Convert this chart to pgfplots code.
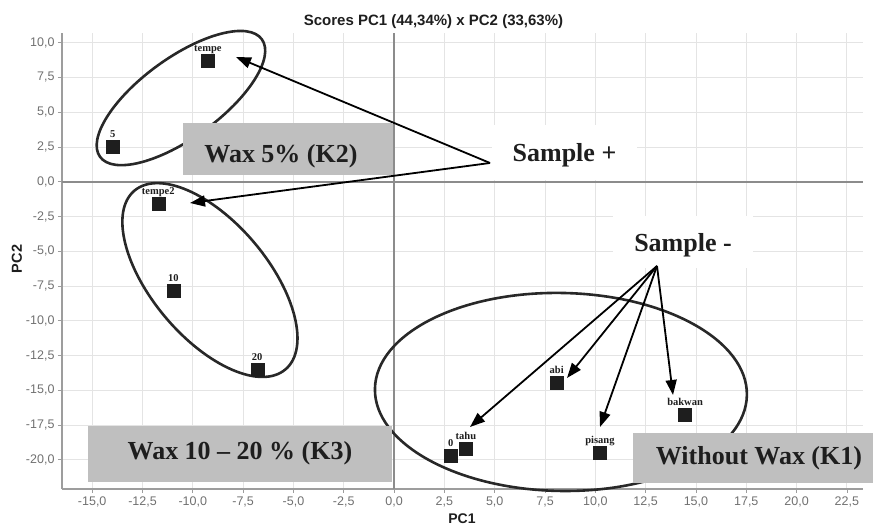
\documentclass[border=0pt]{standalone}
\usepackage{pgfplots}
\pgfplotsset{compat=1.18}
\usepackage{pgfplotstable}
\usepackage{fontspec}
\setmainfont{Liberation Sans}
\newfontfamily\serifbold{Liberation Serif}
\usetikzlibrary{arrows.meta}

\definecolor{tickgray}{RGB}{112,112,112}
\definecolor{gridgray}{RGB}{228,228,228}
\definecolor{zerogray}{RGB}{140,140,140}
\definecolor{boxgray}{RGB}{191,191,191}
\definecolor{inkdark}{RGB}{30,30,30}
\definecolor{ringdark}{RGB}{40,40,40}

% PCA scores (PC1, PC2) with sample names
\pgfplotstableread{
x y label
-9.25 8.69 tempe
-13.98 2.52 5
-11.72 -1.55 tempe2
-10.97 -7.84 10
-6.80 -13.49 20
8.08 -14.43 abi
14.46 -16.73 bakwan
10.23 -19.46 pisang
3.57 -19.17 tahu
2.81 -19.70 0
}\scores

\tikzset{
  callout/.style={line width=1.8pt, black, -{Triangle[length=15pt,width=11pt]}},
  bigtext/.style={anchor=base, inner sep=0pt, text=inkdark,
    font=\serifbold\bfseries\fontsize{26}{28}\selectfont},
}

\begin{document}
\begin{tikzpicture}
\path[use as bounding box] (0,0) rectangle (873pt,526pt);
\begin{axis}[
  at={(62pt,37pt)}, anchor=south west,
  scale only axis, width=801pt, height=456pt,
  xmin=-16.5, xmax=23.3, ymin=-22.1, ymax=10.7,
  xtick={-15,-12.5,-10,-7.5,-5,-2.5,0,2.5,5,7.5,10,12.5,15,17.5,20,22.5},
  ytick={-20,-17.5,-15,-12.5,-10,-7.5,-5,-2.5,0,2.5,5,7.5,10},
  /pgf/number format/.cd, fixed, fixed zerofill, precision=1, use comma,
  assume math mode=true, /pgfplots/.cd,
  tick label style={font=\fontsize{12.5}{14}\selectfont, text=tickgray},
  grid=major, grid style={gridgray, line width=0.9pt},
  axis x line*=bottom, axis y line*=left,
  axis line style={-, draw=zerogray!85, line width=1.2pt},
  every outer x axis line/.append style={-},
  every outer y axis line/.append style={-},
  every inner x axis line/.append style={-},
  every inner y axis line/.append style={-},
  tick align=outside, major tick length=4pt,
  tick style={zerogray!85, line width=0.8pt},
  clip=false,
]
% zero lines
\draw[zerogray, line width=1.6pt] (axis cs:-16.5,0) -- (axis cs:23.3,0);
\draw[zerogray, line width=1.6pt] (axis cs:0,-22.1) -- (axis cs:0,10.7);
% group outlines
\draw[ringdark, line width=2.6pt, rotate around={36:(axis cs:-10.59,6.02)}]
  (axis cs:-10.59,6.02) ellipse [x radius=100pt, y radius=40pt];
\draw[ringdark, line width=2.6pt, rotate around={-49.8:(axis cs:-9.15,-7.07)}]
  (axis cs:-9.15,-7.07) ellipse [x radius=117pt, y radius=58pt];
\draw[ringdark, line width=2.6pt, rotate around={-1:(axis cs:8.29,-15.12)}]
  (axis cs:8.29,-15.12) ellipse [x radius=186pt, y radius=99pt];
% scores
\addplot[only marks, mark=square*, mark size=6.5pt,
  mark options={fill=inkdark, draw=inkdark},
  point meta=explicit symbolic, nodes near coords,
  every node near coord/.style={anchor=base, yshift=9pt, inner sep=0pt,
    text=inkdark, font=\serifbold\bfseries\fontsize{10.5}{11}\selectfont}]
  table[x=x, y=y, meta=label] {\scores};
\end{axis}

\begin{scope}[x=1pt, y=-1pt, shift={(0pt,526pt)}]
  % callout labels on white
  \fill[white] (492,125) rectangle (637,180);
  \node[bigtext] at (564.5,162) {Sample +};
  \fill[white] (613,216) rectangle (753,268);
  \node[bigtext] at (683,252) {Sample -};
  % arrows
  \draw[callout] (490,163) -- (236,57);
  \draw[callout] (490,163) -- (190,203);
  \draw[callout] (657,266) -- (470,427);
  \draw[callout] (657,266) -- (567,378);
  \draw[callout] (657,266) -- (600,427);
  \draw[callout] (657,266) -- (673,395);
  % group captions
  \fill[boxgray] (183,123) rectangle (393,175);
  \node[bigtext] at (281,163) {Wax 5\% (K2)};
  \fill[boxgray] (88,426) rectangle (392,482);
  \node[bigtext] at (240,460) {Wax 10 – 20 \% (K3)};
  \fill[boxgray] (633,433) rectangle (873,483);
  \node[bigtext] at (759,465) {Without Wax (K1)};
  % title and axis names
  \node[anchor=base, inner sep=0pt, text=inkdark, font=\bfseries\fontsize{15}{17}\selectfont]
    at (433.5,25.5) {Scores PC1 (44,34\%) x PC2 (33,63\%)};
  \node[anchor=base, inner sep=0pt, text=inkdark, font=\bfseries\fontsize{14}{16}\selectfont]
    at (462,524) {PC1};
  \node[rotate=90, inner sep=0pt, text=inkdark, font=\bfseries\fontsize{14.5}{16}\selectfont]
    at (17,259) {PC2};
\end{scope}
\end{tikzpicture}
\end{document}
